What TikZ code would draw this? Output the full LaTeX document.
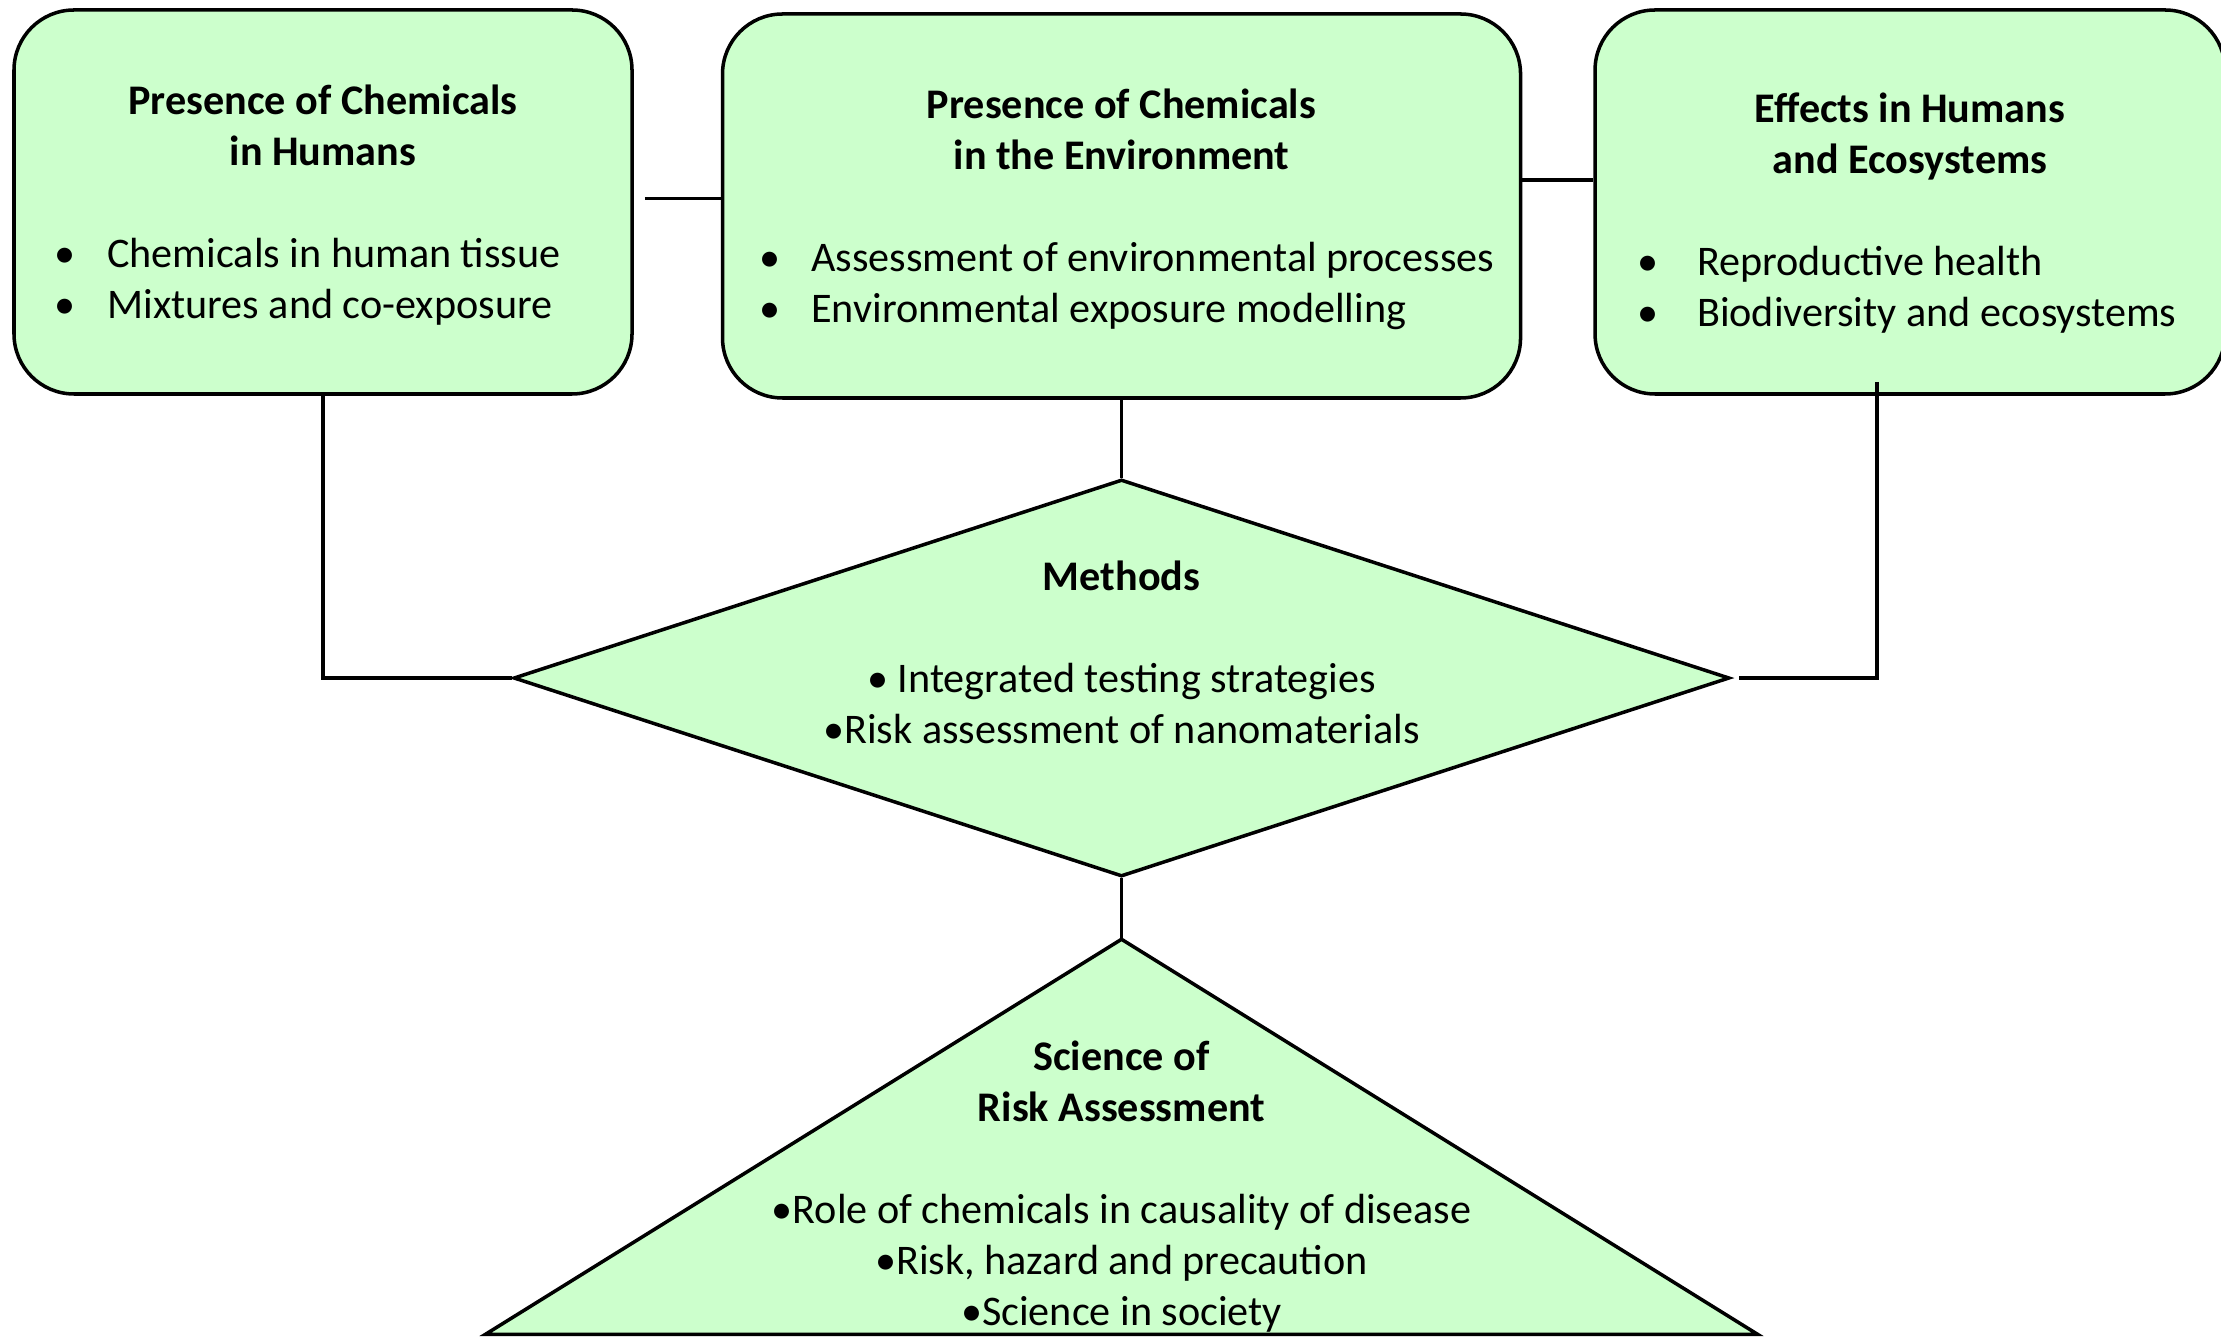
\documentclass[tikz,border=0pt]{standalone}
\usepackage{fontspec}
\setmainfont{Carlito}
\usepackage{tikz}
\usetikzlibrary{positioning,shapes.geometric}
\definecolor{mintfill}{HTML}{CCFFCC}
\newcommand{\bul}[1][5.3mm]{\makebox[#1][l]{\textbullet}}

\begin{document}
\begin{tikzpicture}[
	shapebox/.style={draw,line width=1pt,fill=mintfill},
	topbox/.style={shapebox,rounded corners=6mm,minimum height=3.84cm,align=center,inner sep=0pt},
	link/.style={line width=0.9pt},
	every node/.append style={font=\fontsize{12}{14.5}\selectfont}
]
	\useasboundingbox (0,0) rectangle (22.21,13.36);

	\begin{scope}
		\node[topbox,minimum width=6.18cm] (humans) at (3.23,11.34) {\rule{0pt}{12.5pt}\textbf{Presence of Chemicals}\\ \textbf{in Humans}\\[14.5pt]
		\hspace*{-3.1mm}\begin{tabular}[t]{@{}l@{}}\bul Chemicals in human tissue\\ \bul Mixtures and co-exposure\end{tabular}};
		\node[topbox,minimum width=7.98cm,right=0.87cm of humans,yshift=-0.4mm] (environ) {\rule{0pt}{12.5pt}\textbf{Presence of Chemicals}\\ \textbf{in the Environment}\\[14.5pt]
		\hspace*{1.1mm}\begin{tabular}[t]{@{}l@{}}\bul[4.2mm] Assessment of environmental processes\\ \bul[4.2mm] Environmental exposure modelling\end{tabular}};
		\node[topbox,minimum width=6.3cm,right=0.71cm of environ,yshift=0.4mm] (effects) {\rule{0pt}{17.3pt}\textbf{Effects in Humans}\\ \textbf{and Ecosystems}\\[14.5pt]
		\hspace*{-0.6mm}\begin{tabular}[t]{@{}l@{}}\bul[5mm] Reproductive health\\ \bul[5mm] Biodiversity and ecosystems\end{tabular}};

		\node[shapebox,diamond,minimum width=12.16cm,minimum height=3.97cm,inner sep=0pt,below=0.78cm of environ] (methods) {};
		\node[align=center] (methodstxt) at ([yshift=2.6mm]methods.center) {\textbf{Methods}\\[14.5pt]
		\textbullet\ Integrated testing strategies\\ \textbullet Risk assessment of nanomaterials};

		% pyramid at the bottom
		\coordinate[below=0.61cm of methods] (apex);
		\draw[shapebox] (apex) -- ++(-6.36,-3.95) -- ++(12.72,0) -- cycle;
		\node[align=center] (risktxt) at ([yshift=-2.47cm]apex) {\textbf{Science of}\\ \textbf{Risk Assessment}\\[14.5pt]
		\textbullet Role of chemicals in causality of disease\\ \textbullet Risk, hazard and precaution\\ \textbullet Science in society};
	\end{scope}

	\begin{scope}
		\draw[link,shorten <=1.1mm] ([yshift=0.35mm]humans.east) coordinate (humright) -- (humright -| environ.west);
		\draw[link] ([yshift=2.6mm]environ.east) coordinate (envright) -- (envright -| effects.west);
		\draw[link] (humans.south) |- (methods.west);
		\draw[link] (environ.south) -- (methods.north);
		\draw[link,shorten >=0.8mm] ([xshift=-3.3mm,yshift=1.4mm]effects.south) |- (methods.east);
		\draw[link] (methods.south) -- (apex);
	\end{scope}
\end{tikzpicture}
\end{document}
